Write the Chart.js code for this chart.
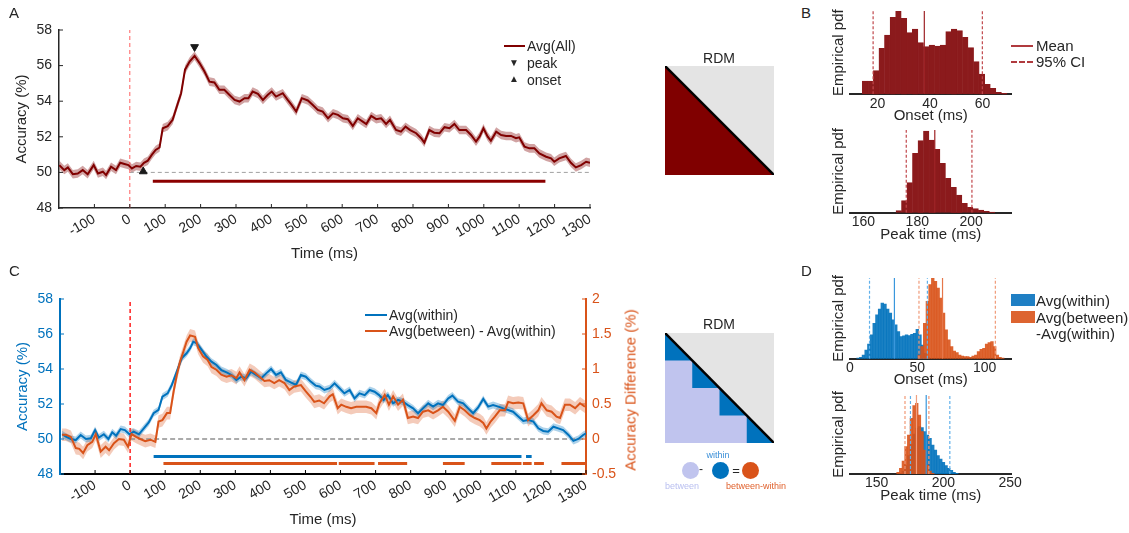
<!DOCTYPE html>
<html>
<head>
<meta charset="utf-8">
<script src="https://cdn.jsdelivr.net/npm/chart.js@4.4.1/dist/chart.umd.min.js"></script>
<style>
body { margin: 0; background: #fff; }
#fig { position: relative; width: 1129px; height: 533px; overflow: hidden; font-family: "Liberation Sans", Arial, Helvetica, sans-serif; color: #262626; }
#fig canvas { position: absolute; }
.t { position: absolute; white-space: nowrap; line-height: 1; }
.c { transform: translate(-50%, -50%); }
.ln { position: absolute; height: 0; }
</style>
</head>
<body>
<div id="fig">
  <canvas id="cA" width="603" height="270" style="left:0;top:0"></canvas>
  <canvas id="cC" width="650" height="263" style="left:0;top:270px"></canvas>
  <canvas id="rdmA" width="109" height="109" style="left:665px;top:66px"></canvas>
  <canvas id="rdmC" width="109" height="110" style="left:665px;top:333px"></canvas>
  <canvas id="dots" width="107" height="23" style="left:667px;top:459px"></canvas>
  <canvas id="bOnset" width="200" height="125" style="left:825px;top:0"></canvas>
  <canvas id="bPeak" width="200" height="125" style="left:825px;top:119px"></canvas>
  <canvas id="dOnset" width="200" height="122" style="left:825px;top:267px"></canvas>
  <canvas id="dPeak" width="200" height="121" style="left:825px;top:384px"></canvas>

  <!-- panel letters -->
  <div class="t" style="left:9px;top:5px;font-size:15px">A</div>
  <div class="t" style="left:801px;top:5px;font-size:15px">B</div>
  <div class="t" style="left:9px;top:263px;font-size:15px">C</div>
  <div class="t" style="left:801px;top:263px;font-size:15px">D</div>

  <!-- legend A -->
  <div class="ln" style="left:504px;top:45px;width:21px;border-top:2.5px solid #800000"></div>
  <div class="t" style="left:527px;top:39px;font-size:14px">Avg(All)</div>
  <div class="t c" style="left:514px;top:63px;font-size:10px">&#9660;</div>
  <div class="t" style="left:527px;top:56px;font-size:14px">peak</div>
  <div class="t c" style="left:514px;top:79px;font-size:10px">&#9650;</div>
  <div class="t" style="left:527px;top:73px;font-size:14px">onset</div>

  <!-- legend C -->
  <div class="ln" style="left:365px;top:314px;width:22px;border-top:2.5px solid #0072BD"></div>
  <div class="t" style="left:389px;top:308px;font-size:14px">Avg(within)</div>
  <div class="ln" style="left:365px;top:330px;width:22px;border-top:2.5px solid #D95319"></div>
  <div class="t" style="left:389px;top:324px;font-size:14px">Avg(between) - Avg(within)</div>
  <div class="t c" style="left:630px;top:390px;font-size:15px;color:#D95319;transform:translate(-50%,-50%) rotate(-90deg)">Accuracy Difference (%)</div>

  <!-- RDM labels -->
  <div class="t c" style="left:719px;top:58px;font-size:14px">RDM</div>
  <div class="t c" style="left:719px;top:324px;font-size:14px">RDM</div>
  <div class="t c" style="left:718px;top:455px;font-size:9px;color:#3a8fd8">within</div>
  <div class="t c" style="left:701px;top:469px;font-size:12px">-</div>
  <div class="t c" style="left:736px;top:470px;font-size:13px">=</div>
  <div class="t c" style="left:682px;top:486px;font-size:9px;color:#b9bff0">between</div>
  <div class="t c" style="left:756px;top:486px;font-size:9px;color:#e0622e">between-within</div>

  <!-- legend B -->
  <div class="ln" style="left:1011px;top:45px;width:22px;border-top:2px solid #b03a3e"></div>
  <div class="t" style="left:1036px;top:38px;font-size:15px">Mean</div>
  <div class="ln" style="left:1011px;top:61px;width:22px;border-top:2px dashed #b03a3e"></div>
  <div class="t" style="left:1036px;top:54px;font-size:15px">95% CI</div>

  <!-- legend D -->
  <div class="ln" style="left:1011px;top:294px;width:24px;height:12px;background:#1f7fc4"></div>
  <div class="t" style="left:1036px;top:293px;font-size:15px">Avg(within)</div>
  <div class="ln" style="left:1011px;top:311px;width:24px;height:12px;background:#dd6430"></div>
  <div class="t" style="left:1036px;top:310px;font-size:15px">Avg(between)</div>
  <div class="t" style="left:1036px;top:326px;font-size:15px">-Avg(within)</div>
</div>

<script>
// ---------- Panel A: decoding accuracy, all pairs ----------
const timesA = [-199,-185,-175,-161,-147,-133,-119,-102,-90,-76,-67,-53,-39,-27,-15,-4,6,18,30,40,51,62,73,84,93,107,121,136,145,156,169,183,197,211,225,239,253,267,281,296,310,324,335,347,362,376,390,401,413,432,446,457,470,486,503,517,531,545,560,574,588,602,616,630,644,658,668,682,696,710,724,735,752,766,779,792,809,823,832,846,860,875,889,903,917,931,950,964,978,988,999,1011,1020,1035,1049,1063,1077,1091,1100,1115,1129,1143,1157,1176,1190,1199,1213,1232,1246,1260,1275,1289,1300];
const accA = [50.41,50.13,50.28,49.9,49.94,50.13,49.9,50.41,49.94,50.04,49.85,50.32,50.13,50.54,50.47,50.41,50.22,50.36,50.32,50.54,50.66,50.98,51.26,51.4,52.48,52.6,52.95,53.9,54.45,55.77,56.23,56.55,56.14,55.67,55.1,55.05,54.64,54.64,54.36,54.07,53.98,54.17,54.17,54.54,54.41,54.07,54.36,54.54,54.26,54.45,54.07,53.79,53.42,54.17,54.04,53.79,53.51,53.42,53.04,53.32,53.23,53.04,52.99,52.61,53.04,52.85,52.72,53.17,52.99,53.04,52.72,52.95,52.38,52.29,52.57,52.38,52.2,51.92,51.67,52.38,52.23,52.2,52.54,52.48,52.72,52.38,52.38,52.1,51.73,52.01,52.48,52.01,51.78,52.29,52.1,52.05,52.05,51.92,51.97,51.45,51.35,51.35,51.07,50.88,50.79,50.6,50.79,50.92,50.54,50.28,50.41,50.6,50.54];
const semA = 0.24;
const sigA = [[65, 1174]];
const sigLevelA = 49.5;
const peakA = { t: 183, acc: 57.05 };
const onsetA = { t: 38, acc: 50.05 };

// ---------- Panel C: within vs between-within ----------
const timesWithin = [-194,-183,-169,-155,-141,-126,-112,-100,-89,-75,-62,-51,-40,-27,-15,-2,10,25,39,53,67,81,92,107,119,133,147,161,171,180,190,204,218,232,246,260,275,289,303,317,331,345,359,374,388,402,416,430,444,458,473,487,501,515,529,540,554,569,583,597,611,626,640,654,669,683,697,710,723,735,750,764,778,792,807,821,835,850,864,878,892,907,919,935,950,964,978,992,1007,1021,1035,1050,1064,1078,1092,1107,1121,1135,1150,1164,1178,1192,1207,1221,1235,1250,1264,1278,1292,1300];
const accWithin = [50.27,50.13,50.0,49.94,50.23,50.0,50.04,50.51,50.08,50.27,50.0,50.38,50.19,50.57,50.51,50.27,50.42,50.27,50.61,50.95,51.47,51.66,52.42,52.61,53.09,53.85,54.61,54.9,55.18,55.56,55.47,55.09,54.7,54.42,54.23,53.94,53.81,53.66,53.37,53.56,53.47,53.85,53.66,53.47,53.75,54.0,53.66,53.81,53.37,53.24,53.09,53.66,53.56,53.28,53.05,53.0,52.8,52.9,53.18,52.9,52.61,52.8,52.32,52.61,52.51,52.8,52.7,52.51,52.23,52.51,52.04,52.23,52.13,51.94,51.75,51.47,51.75,52.04,51.85,52.04,51.94,52.32,52.48,52.13,52.04,51.75,51.47,51.79,52.29,51.85,51.94,51.85,51.75,51.66,51.56,51.28,51.03,51.09,50.99,50.61,50.46,50.42,50.7,50.61,50.51,50.23,49.89,50.0,50.23,50.32];
const semWithin = 0.2;
const timesDiff = [-194,-183,-169,-155,-145,-134,-122,-108,-98,-84,-70,-60,-46,-32,-18,-6,4,17,29,43,58,72,81,92,105,114,124,133,142,152,161,171,185,194,208,221,232,246,260,275,289,303,312,326,341,355,369,383,397,411,425,440,454,468,487,501,515,525,539,553,569,578,592,602,616,630,645,659,673,688,702,711,726,738,750,764,778,792,807,821,835,850,864,878,892,907,926,940,954,969,983,997,1007,1016,1028,1040,1054,1069,1078,1092,1107,1121,1135,1150,1164,1173,1188,1202,1216,1226,1240,1254,1269,1283,1297];
const accDiff = [0.06,0.06,0.03,-0.13,-0.14,-0.2,-0.09,-0.04,0.07,-0.18,-0.11,-0.16,-0.06,0,-0.01,-0.11,0.07,0.03,0,-0.03,-0.01,-0.04,0.25,0.27,0.37,0.37,0.68,0.91,1.1,1.25,1.39,1.48,1.46,1.3,1.18,1.13,1.03,0.99,0.92,0.89,0.91,0.87,0.95,0.84,0.99,0.95,0.89,0.83,0.84,0.8,0.84,0.8,0.7,0.75,0.77,0.68,0.6,0.53,0.55,0.51,0.61,0.64,0.44,0.49,0.46,0.44,0.46,0.46,0.46,0.44,0.37,0.51,0.63,0.49,0.61,0.49,0.56,0.3,0.32,0.3,0.39,0.41,0.37,0.41,0.46,0.39,0.26,0.46,0.41,0.34,0.3,0.27,0.23,0.15,0.25,0.32,0.41,0.41,0.53,0.51,0.52,0.51,0.27,0.34,0.41,0.51,0.41,0.39,0.32,0.3,0.49,0.49,0.44,0.51,0.46];
const semDiff = 0.09;
const sigWithin = [[67, 1116], [1129, 1145]];
const sigWithinLevel = 49.0;
const sigDiff = [[95, 590], [595, 697], [707, 790], [892, 954], [1030, 1116], [1120, 1145], [1152, 1180], [1230, 1300]];
const sigDiffLevel = 48.6;

// shared time axis
const timeTicks = [-100, 0, 100, 200, 300, 400, 500, 600, 700, 800, 900, 1000, 1100, 1200, 1300];
const timeRange = [-200, 1300];
const accRange = [48, 58];
const diffRange = [-0.5, 2];
const chance = 50;
const stimOnset = 0;

// ---------- Panel B: bootstrap distributions (all) ----------
const onsetBins = [15.22,17.34,19.46,21.58,23.70,25.82,27.94,30.06,32.18,34.30,36.42,38.54,40.66,42.78,44.90,47.02,49.14,51.26,53.38,55.50,57.62,59.74,61.86,63.98,66.10,68.22];
const onsetPdf = [40,40,71,138,178,231,250,228,185,196,155,143,148,145,148,188,196,191,171,140,98,61,30,18,6,3];
const onsetMean = 37.8, onsetCI = [18.3, 59.9];
const peakBins = [173.12,175.16,177.20,179.24,181.28,183.32,185.36,187.40,189.44,191.48,193.52,195.56,197.60,199.64,201.68,203.72,205.76,207.80];
const peakPdf = [6,36,90,178,216,245,218,190,148,103,76,53,28,16,12,8,4,2];
const peakMean = 186.5, peakCI = [175.9, 200.3];

// ---------- Panel D: bootstrap distributions (within / between-within) ----------
const onsetBinsWithin = [6,8,10,12,14,16,18,20,22,24,26,28,30,32,34,36,38,40,42,44,46,48,50,52,54,56,58];
const onsetPdfWithin = [2,4,11,26,44,71,106,131,148,166,163,148,136,116,101,81,66,68,71,69,73,76,88,71,41,16,4];
const onsetBinsDiff = [51.5,53.5,55.5,57.5,59.5,61.5,63.5,65.5,67.5,69.5,71.5,73.5,75.5,77.5,79.5,81.5,83.5,85.5,87.5,89.5,91.5,93.5,95.5,97.5,99.5,101.5,103.5,105.5,107.5,109.5,111.5,113.5];
const onsetPdfDiff = [11,36,106,171,221,241,231,211,181,136,86,56,36,23,18,11,8,6,6,4,8,11,21,28,31,44,48,51,36,11,4,2];
const onsetMeanWithin = 33, onsetCIWithin = [14.5, 57.5];
const onsetMeanDiff = 68.75, onsetCIDiff = [51.25, 108];
const peakBinsWithin = [168,170,172,174,176,178,180,182,184,186,188,190,192,194,196,198,200,202,204,206,208,210];
const peakPdfWithin = [2,8,25,55,90,120,138,142,139,127,117,107,87,72,55,45,35,25,17,11,5,2];
const peakBinsDiff = [166,168,170,172,174,176,178,180,182,184,186,188,190,192];
const peakPdfDiff = [5,17,39,82,117,167,205,212,177,127,72,27,9,2];
const peakMeanWithin = 187.1, peakCIWithin = [175.3, 204.8];
const peakMeanDiff = 179.8, peakCIDiff = [171.2, 189.1];

// ---------- RDM schematics ----------
const rdmDiag = [0, 1];
const rdmBlocks = [0, 0.25, 0.5, 0.75, 1];
const dotLabels = ['between', 'within', 'between-within'];

const DARKRED = '#800000', BLUE = '#0072BD', ORANGE = '#D95319', INK = '#262626';
const FONT = '"Liberation Sans", Arial, Helvetica, sans-serif';

Chart.defaults.font.family = FONT;
Chart.defaults.color = INK;
Chart.defaults.animation = false;
Chart.defaults.responsive = false;
Chart.defaults.plugins.legend.display = false;
Chart.defaults.plugins.tooltip.enabled = false;
Chart.defaults.elements.point.radius = 0;
Chart.defaults.elements.line.tension = 0;

const plain = v => String(v);   // no thousands separators, no forced decimals
const noGrid = { display: false, drawTicks: false };

// matlab-style tick marks pointing into the plot
const innerTicks = {
  id: 'innerTicks',
  afterDatasetsDraw(chart, args, opts) {
    const { ctx, chartArea: a } = chart;
    (opts.axes || []).forEach(ax => {
      const s = chart.scales[ax.id];
      ctx.save();
      ctx.strokeStyle = ax.color;
      ctx.lineWidth = ax.width || 1;
      ctx.beginPath();
      s.ticks.forEach(t => {
        const p = s.getPixelForValue(t.value);
        if (s.isHorizontal()) { ctx.moveTo(p, a.bottom); ctx.lineTo(p, a.bottom - ax.len); }
        else if (s.position === 'left') { ctx.moveTo(a.left, p); ctx.lineTo(a.left + ax.len, p); }
        else { ctx.moveTo(a.right, p); ctx.lineTo(a.right - ax.len, p); }
      });
      ctx.stroke();
      ctx.restore();
    });
  }
};

function pts(xs, ys, off) {
  return xs.map((x, i) => ({ x: x, y: ys[i] + (off || 0) }));
}

function segments(list, level) {
  const out = [];
  list.forEach(([a, b]) => { out.push({ x: a, y: level }, { x: b, y: level }, { x: b, y: null }); });
  return out;
}

function timeAxis(h, padBottom) {
  return {
    type: 'linear', min: timeRange[0], max: timeRange[1],
    afterBuildTicks: s => { s.ticks = timeTicks.map(v => ({ value: v })); },
    ticks: { autoSkip: false, minRotation: 30, maxRotation: 30, padding: 3, font: { size: 14 }, color: INK, callback: plain },
    grid: noGrid,
    title: { display: true, text: 'Time (ms)', font: { size: 15 }, padding: { top: 0, bottom: padBottom } },
    afterFit: s => { s.height = h; }
  };
}

// ---------- chart A ----------
new Chart(document.getElementById('cA'), {
  type: 'line',
  data: {
    datasets: [
      { data: [{ x: peakA.t, y: peakA.acc }], showLine: false, pointStyle: 'triangle', rotation: 180, pointRadius: 4.5, backgroundColor: '#1a1a1a', borderColor: '#1a1a1a' },
      { data: [{ x: onsetA.t, y: onsetA.acc }], showLine: false, pointStyle: 'triangle', pointRadius: 4.5, backgroundColor: '#1a1a1a', borderColor: '#1a1a1a' },
      { data: pts(timesA, accA), borderColor: DARKRED, borderWidth: 2 },
      { data: segments(sigA, sigLevelA), borderColor: '#8b0000', borderWidth: 3 },
      { data: [{ x: stimOnset, y: accRange[0] }, { x: stimOnset, y: accRange[1] }], borderColor: '#ff6060', borderWidth: 1, borderDash: [4, 3] },
      { data: [{ x: stimOnset, y: chance }, { x: timeRange[1], y: chance }], borderColor: '#a0a0a0', borderWidth: 1, borderDash: [4, 3] },
      { data: pts(timesA, accA, semA), borderWidth: 0, fill: '+1', backgroundColor: 'rgba(128,0,0,0.36)' },
      { data: pts(timesA, accA, -semA), borderWidth: 0, fill: false }
    ]
  },
  options: {
    layout: { padding: { left: 0, top: 30, right: 13, bottom: 0 } },
    scales: {
      x: Object.assign(timeAxis(62, 7), { border: { color: INK, width: 1.5 } }),
      y: {
        min: accRange[0], max: accRange[1],
        ticks: { stepSize: 2, padding: 7, font: { size: 14 }, color: INK, callback: plain },
        grid: noGrid,
        border: { color: INK, width: 1.5 },
        title: { display: true, text: 'Accuracy (%)', font: { size: 15 }, padding: { top: 13, bottom: 0 } },
        afterFit: s => { s.width = 59; }
      }
    },
    plugins: { innerTicks: { axes: [{ id: 'x', len: 4, color: INK }, { id: 'y', len: 4, color: INK }] } }
  },
  plugins: [innerTicks]
});

// ---------- chart C ----------
new Chart(document.getElementById('cC'), {
  type: 'line',
  data: {
    datasets: [
      { data: pts(timesDiff, accDiff), borderColor: ORANGE, borderWidth: 2, yAxisID: 'y2' },
      { data: pts(timesWithin, accWithin), borderColor: BLUE, borderWidth: 2 },
      { data: segments(sigWithin, sigWithinLevel), borderColor: BLUE, borderWidth: 3 },
      { data: segments(sigDiff, sigDiffLevel), borderColor: ORANGE, borderWidth: 3 },
      { data: [{ x: stimOnset, y: accRange[0] }, { x: stimOnset, y: accRange[1] }], borderColor: '#ff2020', borderWidth: 1.5, borderDash: [4, 3] },
      { data: [{ x: stimOnset, y: chance }, { x: timeRange[1], y: chance }], borderColor: '#909090', borderWidth: 1.5, borderDash: [5, 3] },
      { data: pts(timesWithin, accWithin, semWithin), borderWidth: 0, fill: '+1', backgroundColor: 'rgba(0,114,189,0.32)' },
      { data: pts(timesWithin, accWithin, -semWithin), borderWidth: 0, fill: false },
      { data: pts(timesDiff, accDiff, semDiff), borderWidth: 0, fill: '+1', backgroundColor: 'rgba(217,83,25,0.3)', yAxisID: 'y2' },
      { data: pts(timesDiff, accDiff, -semDiff), borderWidth: 0, fill: false, yAxisID: 'y2' }
    ]
  },
  options: {
    layout: { padding: { left: 0, top: 29, right: 0, bottom: 0 } },
    scales: {
      x: Object.assign(timeAxis(59, 4), { border: { color: '#000', width: 2 } }),
      y: {
        position: 'left', min: accRange[0], max: accRange[1],
        ticks: { stepSize: 2, padding: 7, font: { size: 14 }, color: BLUE, callback: plain },
        grid: noGrid,
        border: { color: BLUE, width: 2 },
        title: { display: true, text: 'Accuracy (%)', color: BLUE, font: { size: 15 }, padding: { top: 14, bottom: 0 } },
        afterFit: s => { s.width = 60; }
      },
      y2: {
        position: 'right', min: diffRange[0], max: diffRange[1],
        ticks: { stepSize: 0.5, padding: 6, font: { size: 14 }, color: ORANGE, callback: plain },
        grid: noGrid,
        border: { color: ORANGE, width: 2 },
        afterFit: s => { s.width = 64; }
      }
    },
    plugins: { innerTicks: { axes: [{ id: 'x', len: 4, color: '#000' }, { id: 'y', len: 4, color: BLUE }, { id: 'y2', len: 4, color: ORANGE }] } }
  },
  plugins: [innerTicks]
});

// ---------- RDM schematics ----------
function unitScales() {
  return {
    x: { type: 'linear', min: 0, max: 1, display: false },
    y: { type: 'linear', min: 0, max: 1, reverse: true, display: false }
  };
}
const diagPts = rdmDiag.map(v => ({ x: v, y: v }));

new Chart(document.getElementById('rdmA'), {
  type: 'line',
  data: {
    datasets: [
      { data: diagPts, borderColor: '#000', borderWidth: 2.5, fill: false, clip: false },
      { data: diagPts, borderWidth: 0, fill: { value: 1 }, backgroundColor: DARKRED },
      { data: diagPts, borderWidth: 0, fill: { value: 0 }, backgroundColor: '#e4e4e4' }
    ]
  },
  options: { layout: { padding: 0 }, scales: unitScales() }
});

const stair = [];
for (let k = 0; k < rdmBlocks.length - 1; k++) {
  stair.push({ x: rdmBlocks[k], y: rdmBlocks[k + 1] }, { x: rdmBlocks[k + 1], y: rdmBlocks[k + 1] });
}
new Chart(document.getElementById('rdmC'), {
  type: 'line',
  data: {
    datasets: [
      { data: diagPts, borderColor: '#000', borderWidth: 2.5, fill: false, clip: false },
      { data: stair, borderWidth: 0, fill: { value: 1 }, backgroundColor: '#c0c4ee' },
      { data: diagPts, borderWidth: 0, fill: { value: 1 }, backgroundColor: BLUE },
      { data: diagPts, borderWidth: 0, fill: { value: 0 }, backgroundColor: '#e4e4e4' }
    ]
  },
  options: { layout: { padding: 0 }, scales: unitScales() }
});

new Chart(document.getElementById('dots'), {
  type: 'line',
  data: {
    labels: dotLabels,
    datasets: [{
      data: dotLabels.map(() => 0), showLine: false, clip: false,
      pointRadius: 8.5, borderWidth: 0,
      pointBackgroundColor: ['#c0c4ee', BLUE, '#d95319']
    }]
  },
  options: {
    layout: { padding: 0 },
    scales: {
      x: { type: 'category', offset: true, display: false },
      y: { min: -1, max: 1, display: false }
    }
  }
});

// ---------- histograms ----------
// bars sit on hidden copies of the x axis so the visible ticks do not shrink the bar width
function histogram(id, o) {
  const datasets = [];
  const scales = {
    x: {
      type: 'linear', min: o.xmin, max: o.xmax, offset: false,
      afterBuildTicks: s => { s.ticks = o.ticks.map(v => ({ value: v })); },
      ticks: { autoSkip: false, padding: 1, font: { size: 14 }, color: INK, callback: plain },
      grid: noGrid,
      border: { color: INK, width: 2 },
      title: { display: true, text: o.title, font: { size: 15 }, padding: { top: 0, bottom: 0 } },
      afterFit: s => { s.height = o.xh; }
    },
    y: {
      min: 0, max: o.ymax,
      ticks: { display: false }, grid: noGrid, border: { display: false },
      title: { display: true, text: 'Empirical pdf', font: { size: 15 }, padding: { top: 5, bottom: 0 } },
      afterFit: s => { s.width = 25; }
    }
  };
  o.lines.forEach(l => datasets.push({
    type: 'line', data: [{ x: l.x, y: 0 }, { x: l.x, y: o.ymax }],
    borderColor: l.color, borderWidth: l.w || 1.2, borderDash: l.dash ? [3, 2] : [], order: 0
  }));
  o.bars.forEach((b, k) => {
    const axisId = 'xb' + k;
    scales[axisId] = {
      type: 'linear', min: o.xmin, max: o.xmax, offset: false, display: false,
      afterBuildTicks: s => { s.ticks = [{ value: o.xmin }]; }
    };
    datasets.push({
      type: 'bar', data: pts(b.x, b.y), backgroundColor: b.color,
      borderColor: b.edge || 'rgba(0,0,0,0)', borderWidth: b.edge ? 0.6 : 0,
      xAxisID: axisId, order: k + 1,
      barPercentage: 1, categoryPercentage: 1, grouped: false
    });
  });
  new Chart(document.getElementById(id), {
    type: 'bar',
    data: { datasets: datasets },
    options: {
      layout: { padding: { left: 0, top: 11, right: 13.5, bottom: 0 } },
      scales: scales
    }
  });
}

const BAR_RED = '#8b1a1c';
histogram('bOnset', {
  xmin: 9.5, xmax: 71, ymax: 250, ticks: [20, 40, 60], title: 'Onset (ms)', xh: 30.7,
  bars: [{ x: onsetBins, y: onsetPdf, color: BAR_RED, edge: BAR_RED }],
  lines: [
    { x: onsetMean, color: '#9e2226' },
    { x: onsetCI[0], color: '#c0464a', dash: true },
    { x: onsetCI[1], color: '#c0464a', dash: true }
  ]
});
histogram('bPeak', {
  xmin: 155, xmax: 215, ymax: 248, ticks: [160, 180, 200], title: 'Peak time (ms)', xh: 31.3,
  bars: [{ x: peakBins, y: peakPdf, color: BAR_RED, edge: BAR_RED }],
  lines: [
    { x: peakMean, color: '#9e2226' },
    { x: peakCI[0], color: '#c0464a', dash: true },
    { x: peakCI[1], color: '#c0464a', dash: true }
  ]
});
histogram('dOnset', {
  xmin: 0, xmax: 120, ymax: 241, ticks: [0, 50, 100], title: 'Onset (ms)', xh: 30.3,
  bars: [
    { x: onsetBinsDiff, y: onsetPdfDiff, color: 'rgba(217,83,25,0.9)' },
    { x: onsetBinsWithin, y: onsetPdfWithin, color: 'rgba(0,114,189,0.9)' }
  ],
  lines: [
    { x: onsetMeanWithin, color: '#3a97dc' },
    { x: onsetCIWithin[0], color: '#5fb0ea', dash: true },
    { x: onsetCIWithin[1], color: '#5fb0ea', dash: true },
    { x: onsetMeanDiff, color: '#e6774a' },
    { x: onsetCIDiff[0], color: '#f09a78', dash: true },
    { x: onsetCIDiff[1], color: '#f09a78', dash: true }
  ]
});
histogram('dPeak', {
  xmin: 130, xmax: 251, ymax: 237, ticks: [150, 200, 250], title: 'Peak time (ms)', xh: 31,
  bars: [
    { x: peakBinsDiff, y: peakPdfDiff, color: 'rgba(217,83,25,0.9)' },
    { x: peakBinsWithin, y: peakPdfWithin, color: 'rgba(0,114,189,0.9)' }
  ],
  lines: [
    { x: peakMeanWithin, color: '#3a97dc' },
    { x: peakCIWithin[0], color: '#5fb0ea', dash: true },
    { x: peakCIWithin[1], color: '#5fb0ea', dash: true },
    { x: peakMeanDiff, color: '#f0a080' },
    { x: peakCIDiff[0], color: '#f09a78', dash: true },
    { x: peakCIDiff[1], color: '#f09a78', dash: true }
  ]
});
</script>
</body>
</html>
